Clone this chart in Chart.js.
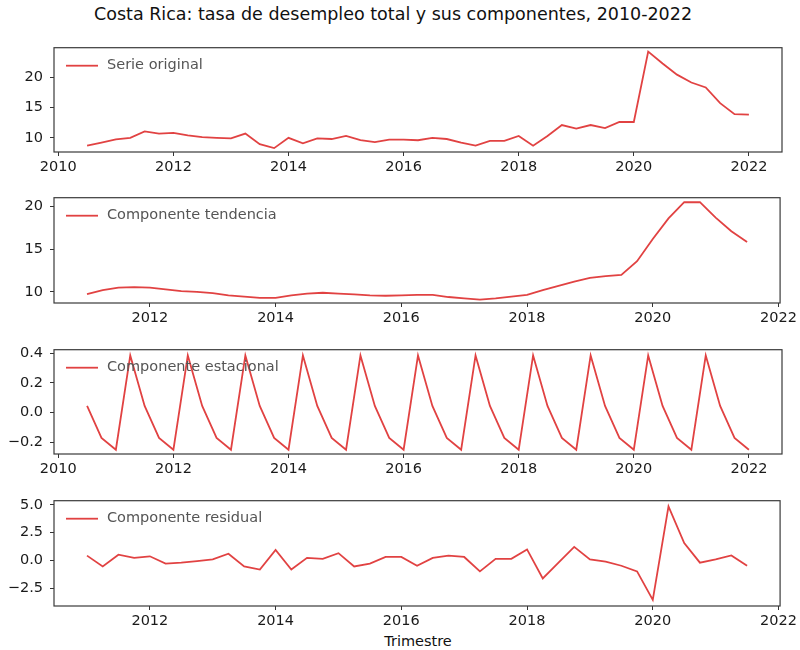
<!DOCTYPE html>
<html>
<head>
<meta charset="utf-8">
<script src="https://cdn.jsdelivr.net/npm/chart.js@4.4.1/dist/chart.umd.min.js"></script>
<style>
  body { margin: 0; background: #fff; }
  #wrap { position: relative; width: 800px; height: 650px; font-family: "DejaVu Sans", sans-serif; }
  .panel { position: absolute; left: 0; }
  #titulo { position: absolute; top: 4px; left: 393px; transform: translateX(-50%); white-space: nowrap; font-size: 17.5px; color: #111; }
  #xlabel { position: absolute; top: 633px; left: 418px; transform: translateX(-50%); font-size: 14.5px; color: #111; }
</style>
</head>
<body>
<div id="wrap">
  <div id="titulo">Costa Rica: tasa de desempleo total y sus componentes, 2010-2022</div>
  <div id="xlabel">Trimestre</div>
</div>
<script>
// trimestres 2010T3 - 2022T1 (inicio de trimestre)
const trimestres = [
  '2010-07', '2010-10',
  '2011-01', '2011-04', '2011-07', '2011-10',
  '2012-01', '2012-04', '2012-07', '2012-10',
  '2013-01', '2013-04', '2013-07', '2013-10',
  '2014-01', '2014-04', '2014-07', '2014-10',
  '2015-01', '2015-04', '2015-07', '2015-10',
  '2016-01', '2016-04', '2016-07', '2016-10',
  '2017-01', '2017-04', '2017-07', '2017-10',
  '2018-01', '2018-04', '2018-07', '2018-10',
  '2019-01', '2019-04', '2019-07', '2019-10',
  '2020-01', '2020-04', '2020-07', '2020-10',
  '2021-01', '2021-04', '2021-07', '2021-10',
  '2022-01'
];

const serieOriginal = [
  8.7, 9.2,
  9.75, 10.0, 11.05, 10.7,
  10.8, 10.4, 10.1, 10.0,
  9.9, 10.7, 8.95, 8.3,
  10.0, 9.1, 9.9, 9.8,
  10.3, 9.6, 9.3, 9.7,
  9.7, 9.6, 10.0, 9.8,
  9.2, 8.7, 9.5, 9.5,
  10.3, 8.7, 10.3, 12.1,
  11.5, 12.1, 11.6, 12.6,
  12.6, 24.2, 22.25, 20.4,
  19.1, 18.3, 15.7, 13.9,
  13.8
];

// tendencia y residuo: 2011T1 - 2021T3
const tendencia = [
  9.74, 10.2, 10.5, 10.55,
  10.5, 10.3, 10.1, 10.0,
  9.85, 9.6, 9.45, 9.3,
  9.3, 9.6, 9.8, 9.9,
  9.8, 9.7, 9.6, 9.55,
  9.6, 9.65, 9.65, 9.4,
  9.25, 9.1, 9.25, 9.45,
  9.65, 10.2, 10.7, 11.2,
  11.65, 11.85, 12.0, 13.6,
  16.2, 18.6, 20.5, 20.5,
  18.7, 17.1, 15.85
];

const estacional = [
  0.045, -0.17,
  -0.25, 0.385, 0.045, -0.17,
  -0.25, 0.385, 0.045, -0.17,
  -0.25, 0.385, 0.045, -0.17,
  -0.25, 0.385, 0.045, -0.17,
  -0.25, 0.385, 0.045, -0.17,
  -0.25, 0.385, 0.045, -0.17,
  -0.25, 0.385, 0.045, -0.17,
  -0.25, 0.385, 0.045, -0.17,
  -0.25, 0.385, 0.045, -0.17,
  -0.25, 0.385, 0.045, -0.17,
  -0.25, 0.385, 0.045, -0.17,
  -0.25
];

const residual = [
  0.43, -0.54, 0.51, 0.23,
  0.37, -0.28, -0.2, -0.06,
  0.09, 0.6, -0.54, -0.82,
  0.94, -0.82, 0.23, 0.14,
  0.65, -0.54, -0.28, 0.31,
  0.31, -0.48, 0.23, 0.43,
  0.31, -0.99, 0.14, 0.14,
  0.99, -1.62, -0.2, 1.22,
  0.09, -0.11, -0.48, -0.99,
  -3.55, 4.86, 1.56, -0.2,
  0.09, 0.45, -0.48
];

const anios = [2010, 2012, 2014, 2016, 2018, 2020, 2022];
const ticksNivel = [10, 15, 20];
const ticksEstacional = [-0.2, 0.0, 0.2, 0.4];
const ticksResidual = [-2.5, 0.0, 2.5, 5.0];

const FONT = 'DejaVu Sans';
const COLOR = 'rgba(222, 45, 45, 0.9)';

const aDecimal = (s) => {
  const [y, m] = s.split('-').map(Number);
  return y + (m - 1) / 12;
};
const puntos = (fechas, valores) => fechas.map((f, i) => ({ x: aDecimal(f), y: valores[i] }));
const fmt = (v) => (v < 0 ? '\u2212' : '') + Math.abs(v).toFixed(1);

// marco completo alrededor del area de datos
const marco = {
  id: 'marco',
  afterDraw(chart) {
    const { ctx, chartArea: a } = chart;
    ctx.save();
    ctx.strokeStyle = '#3a3a3a';
    ctx.lineWidth = 1.2;
    ctx.strokeRect(a.left, a.top, a.right - a.left, a.bottom - a.top);
    ctx.restore();
  }
};

// leyenda arriba a la izquierda, dentro del area
const leyenda = {
  id: 'leyenda',
  afterDraw(chart) {
    const { ctx, chartArea: a } = chart;
    const ds = chart.data.datasets[0];
    const y = a.top + 18;
    ctx.save();
    ctx.strokeStyle = ds.borderColor;
    ctx.lineWidth = 1.8;
    ctx.beginPath();
    ctx.moveTo(a.left + 12, y);
    ctx.lineTo(a.left + 44, y);
    ctx.stroke();
    ctx.fillStyle = '#555';
    ctx.font = '14.5px "' + FONT + '"';
    ctx.textBaseline = 'middle';
    ctx.fillText(ds.label, a.left + 53, y);
    ctx.restore();
  }
};

function panel(cfg) {
  const padTop = 10, xH = 30;
  const div = document.createElement('div');
  div.className = 'panel';
  div.style.top = (cfg.top - padTop) + 'px';
  const cv = document.createElement('canvas');
  cv.width = 800;
  cv.height = cfg.bottom - cfg.top + padTop + xH;
  div.appendChild(cv);
  document.getElementById('wrap').appendChild(div);

  const tickFont = { family: FONT, size: 14.5 };
  new Chart(cv, {
    type: 'line',
    data: {
      datasets: [{
        label: cfg.label,
        data: cfg.data,
        borderColor: COLOR,
        borderWidth: 1.8,
        pointRadius: 0,
        tension: 0,
        fill: false
      }]
    },
    options: {
      responsive: false,
      animation: false,
      devicePixelRatio: 1,
      layout: { padding: { top: padTop, left: 0, right: 18, bottom: 0 } },
      plugins: { legend: { display: false }, title: { display: false }, tooltip: { enabled: false } },
      scales: {
        x: {
          type: 'linear',
          min: cfg.xmin,
          max: cfg.xmax,
          afterFit: (s) => { s.height = xH; },
          afterBuildTicks: (s) => { s.ticks = anios.filter(v => v >= cfg.xmin && v <= cfg.xmax).map(v => ({ value: v })); },
          grid: { drawOnChartArea: false, drawTicks: true, tickLength: 4, color: '#333' },
          border: { display: false },
          ticks: { font: tickFont, color: '#1a1a1a', padding: 3, maxRotation: 0, autoSkip: false, callback: (v) => String(v) }
        },
        y: {
          min: cfg.ymin,
          max: cfg.ymax,
          afterFit: (s) => { s.width = 54; },
          afterBuildTicks: (s) => { s.ticks = cfg.yticks.map(v => ({ value: v })); },
          grid: { drawOnChartArea: false, drawTicks: true, tickLength: 4, color: '#333' },
          border: { display: false },
          ticks: { font: tickFont, color: '#1a1a1a', padding: 7, autoSkip: false, callback: cfg.yfmt }
        }
      }
    },
    plugins: [marco, leyenda]
  });
}

const trimCentro = trimestres.slice(2, 45);

panel({ top: 42, bottom: 152, label: 'Serie original', data: puntos(trimestres, serieOriginal),
  xmin: 2009.925, xmax: 2022.575, ymin: 7.66, ymax: 24.84, yticks: ticksNivel, yfmt: (v) => String(v) });
panel({ top: 192, bottom: 303, label: 'Componente tendencia', data: puntos(trimCentro, tendencia),
  xmin: 2010.475, xmax: 2022.025, ymin: 8.7, ymax: 21.03, yticks: ticksNivel, yfmt: (v) => String(v) });
panel({ top: 344, bottom: 454, label: 'Componente estacional', data: puntos(trimestres, estacional),
  xmin: 2009.925, xmax: 2022.575, ymin: -0.279, ymax: 0.424, yticks: ticksEstacional, yfmt: fmt });
panel({ top: 495, bottom: 606, label: 'Componente residual', data: puntos(trimCentro, residual),
  xmin: 2010.475, xmax: 2022.025, ymin: -4.1, ymax: 5.37, yticks: ticksResidual, yfmt: fmt });
</script>
</body>
</html>
